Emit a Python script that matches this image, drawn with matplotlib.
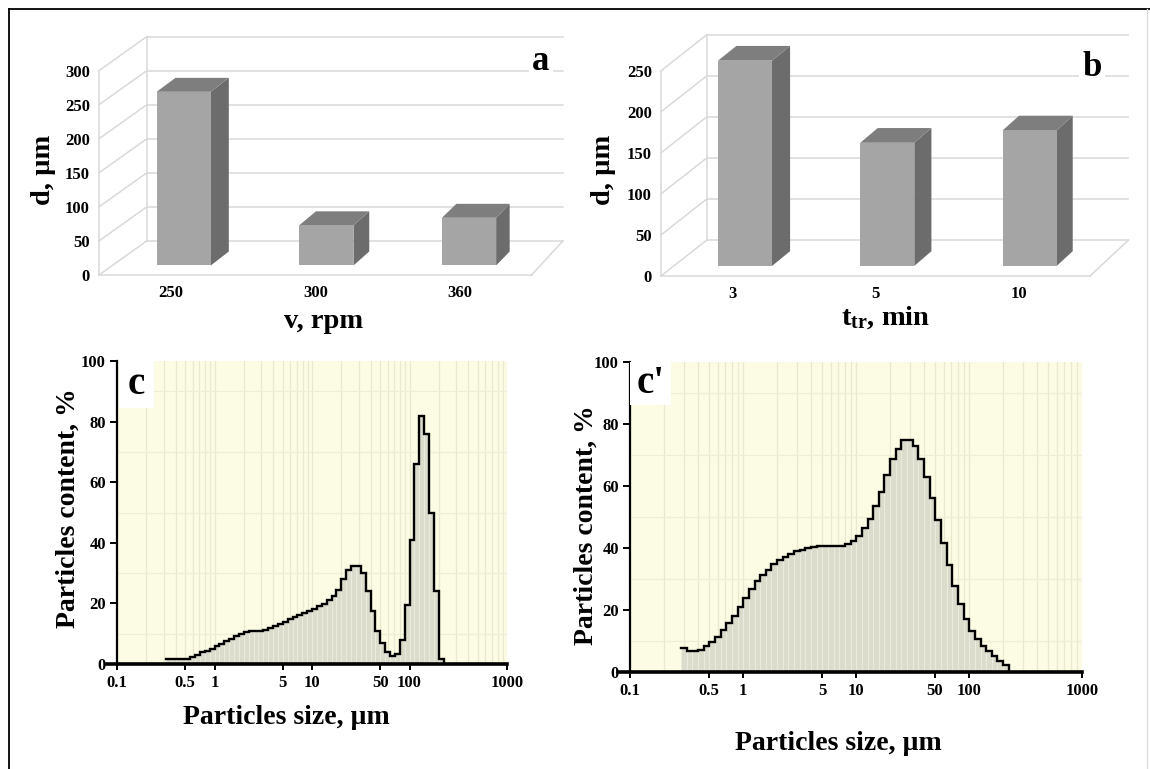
"""Particle size results: 3D-style bar charts (a, b) and size distributions (c, c')."""
import matplotlib
matplotlib.use("Agg")
import matplotlib.pyplot as plt
import numpy as np
from matplotlib.lines import Line2D
from matplotlib.patches import Polygon, Rectangle

plt.rcParams['font.family'] = ['Liberation Serif', 'DejaVu Serif']
plt.rcParams['font.weight'] = 'bold'
plt.rcParams['mathtext.default'] = 'regular'

W, H = 1150, 769

# (a) mean size vs. rotor speed
speed_labels = ['250', '300', '360']
d_speed = [255, 59, 70]

# (b) mean size vs. treatment time
time_labels = ['3', '5', '10']
d_time = [250, 150, 165]

# (c), (c') laser diffraction: 20 size classes per decade
classes_per_decade = 20
first_class_c = 0.317
first_class_c2 = 0.283
content_c = [1.6, 1.6, 1.6, 1.6, 1.6, 2.4, 3.1, 3.8, 4.4, 5.1,
             5.8, 6.7, 7.5, 8.3, 9.1, 9.8, 10.4, 10.9, 11.0, 11.0,
             11.2, 11.8, 12.5, 13.3, 14.0, 14.8, 15.5, 16.2, 16.9, 17.6,
             18.3, 19.0, 19.8, 21.0, 22.5, 24.5, 28.0, 31.0, 32.5, 32.5,
             30.0, 24.0, 17.5, 11.0, 6.8, 4.1, 2.6, 3.2, 8.0, 19.5,
             41.0, 66.0, 82.0, 76.0, 50.0, 24.0, 1.5]
content_c2 = [7.7, 6.9, 6.9, 7.2, 8.3, 9.8, 11.4, 13.6, 15.8, 18.2,
              21.0, 24.0, 26.8, 29.3, 31.3, 33.0, 34.8, 36.1, 37.2, 38.2,
              38.9, 39.5, 39.9, 40.3, 40.5, 40.5, 40.5, 40.5, 40.6, 41.2,
              42.2, 44.0, 46.3, 49.3, 53.4, 58.2, 63.5, 68.8, 72.0, 74.9,
              74.9, 73.0, 68.8, 63.0, 56.0, 48.9, 41.6, 34.4, 27.7, 22.0,
              17.1, 13.2, 10.6, 8.5, 6.9, 5.1, 3.5, 2.1]
size_ticks = [0.1, 0.5, 1, 5, 10, 50, 100, 1000]
size_tick_labels = ['0.1', '0.5', '1', '5', '10', '50', '100', '1000']


def box(left, top, right, bottom):
    """Pixel box (origin top-left) -> figure fraction rect."""
    return [left / W, 1 - bottom / H, (right - left) / W, (bottom - top) / H]


def fig_text(x, y, s, **kw):
    fig.text(x / W, 1 - y / H, s, ha='center', va='center', **kw)


def bar_axes(origin, px_cat, px_val, xlim, ylim):
    """Axes whose data origin sits at pixel `origin` with the given scales."""
    x0, y0 = origin
    rect = box(x0 + xlim[0] * px_cat, y0 - ylim[1] * px_val,
               x0 + xlim[1] * px_cat, y0 - ylim[0] * px_val)
    ax = fig.add_axes(rect)
    ax.set_xlim(*xlim)
    ax.set_ylim(*ylim)
    ax.set_facecolor('none')
    return ax


def bars_3d(ax, values, labels, vmax, dx_left, dx_right, dy_back,
            depth=(0.28, 0.69), width=0.38):
    n = len(values)

    def proj(c, v, d):
        return c + d * (dx_left + (dx_right - dx_left) * c / n), v + d * dy_back

    def seg(p, q):
        (x1, y1), (x2, y2) = proj(*p), proj(*q)
        ax.plot([x1, x2], [y1, y2], color='#d9d9d9', lw=1.1, zorder=1)

    # back wall and left side wall grid
    for v in range(0, vmax + 1, 50):
        seg((0, v, 1), (n, v, 1))
        seg((0, v, 0), (0, v, 1))
    seg((0, 0, 0), (0, vmax, 0))
    seg((0, 0, 1), (0, vmax, 1))
    # floor edges
    seg((0, 0, 0), (n, 0, 0))
    seg((n, 0, 0), (n, 0, 1))

    d0, d1 = depth
    for i, v in enumerate(values):
        c0, c1 = i + 0.5 - width / 2, i + 0.5 + width / 2
        faces = [
            ([(c1, 0, d0), (c1, 0, d1), (c1, v, d1), (c1, v, d0)], '#6c6c6c'),
            ([(c0, v, d0), (c1, v, d0), (c1, v, d1), (c0, v, d1)], '#7e7e7e'),
            ([(c0, 0, d0), (c1, 0, d0), (c1, v, d0), (c0, v, d0)], '#a5a5a5'),
        ]
        for pts, col in faces:
            ax.add_patch(Polygon([proj(*p) for p in pts], closed=True,
                                 fc=col, ec='none', zorder=3))

    for side in ['top', 'right']:
        ax.spines[side].set_visible(False)
    ax.spines['left'].set_position(('data', 0))
    ax.spines['bottom'].set_position(('data', 0))
    ax.spines['left'].set_color('none')
    ax.spines['bottom'].set_color('none')
    ax.set_yticks(range(0, vmax + 1, 50))
    ax.set_xticks([i + 0.5 for i in range(n)], labels)
    ax.tick_params(axis='y', length=0, pad=6.5, labelsize=12)
    ax.tick_params(axis='x', length=0, pad=7.5, labelsize=12)


def psd_panel(ax, first_class, values, tag, tag_box):
    edges = first_class * 10 ** (np.arange(len(values) + 1) / classes_per_decade)
    ax.set_xscale('log')
    ax.set_xlim(0.1, 1000)
    ax.set_ylim(0, 100)
    ax.set_facecolor('#fcfce4')
    ax.set_axisbelow(True)

    ax.set_yticks(range(0, 101, 10), minor=True)
    ax.grid(which='both', axis='x', color='#e9e9cf', lw=0.9)
    ax.grid(which='minor', axis='y', color='#efefd9', lw=0.9)

    ax.bar(edges[:-1], values, width=np.diff(edges), align='edge',
           color='#dcdccd', edgecolor='#ebebdf', linewidth=0.7, zorder=2)
    xs = np.append(np.repeat(edges, 2)[1:-1], edges[-1])
    ys = np.append(np.repeat(values, 2), 0)
    ax.plot(xs, ys, color='black', lw=1.7, zorder=3, solid_joinstyle='miter')

    ax.set_xticks(size_ticks, size_tick_labels)
    ax.set_yticks(range(0, 101, 20))
    ax.tick_params(axis='x', which='major', direction='out', length=4,
                   width=1.4, pad=4, labelsize=12)
    ax.tick_params(axis='y', which='major', direction='out', length=5,
                   width=1.4, pad=3, labelsize=12)
    ax.tick_params(which='minor', length=0)
    for side in ['top', 'right']:
        ax.spines[side].set_visible(False)
    # the base line runs a little past the y axis on the left
    ax.spines['bottom'].set_bounds(0.079, 1000)
    ax.spines['bottom'].set_linewidth(2.6)
    ax.spines['left'].set_linewidth(1.6)

    ax.add_patch(Rectangle((tag_box[0], tag_box[1]), tag_box[2], tag_box[3],
                           transform=ax.transAxes, fc='white', ec='none',
                           zorder=4))
    ax.text(tag_box[0] + tag_box[2] / 2, tag_box[1] + tag_box[3] / 2, tag,
            transform=ax.transAxes, ha='center', va='center', fontsize=28,
            zorder=5)


fig = plt.figure(figsize=(W / 100, H / 100), dpi=100)

# (a)
ax_a = bar_axes((99, 275), 144.2, 0.681, (-0.55, 3.4), (-60, 360))
bars_3d(ax_a, d_speed, speed_labels, 300, 0.331, 0.217, 50)
fig_text(541, 62, 'a', fontsize=25,
         bbox=dict(boxstyle='square,pad=0.1', fc='white', ec='none'))
fig_text(44, 170, 'd, µm', fontsize=20.5, rotation=90)
fig_text(324, 321, 'v, rpm', fontsize=20.5)

# (b)
ax_b = bar_axes((661, 276), 143.0, 0.821, (-0.5, 3.4), (-50, 300))
bars_3d(ax_b, d_time, time_labels, 250, 0.320, 0.269, 43.8)
fig_text(1092, 68, 'b', fontsize=25,
         bbox=dict(boxstyle='square,pad=0.1', fc='white', ec='none'))
fig_text(604, 170, 'd, µm', fontsize=20.5, rotation=90)
fig_text(886, 318, r'$t_{tr}$, min', fontsize=20.5)

# (c)
ax_c = fig.add_axes(box(117, 361, 507, 664))
psd_panel(ax_c, first_class_c, content_c, 'c', (0.005, 0.845, 0.09, 0.155))
fig_text(68, 508, 'Particles content, %', fontsize=20, rotation=90)
fig_text(286, 717, 'Particles size, µm', fontsize=20)

# (c')
ax_c2 = fig.add_axes(box(630, 362, 1082, 672))
psd_panel(ax_c2, first_class_c2, content_c2, "c'", (0.0, 0.86, 0.09, 0.14))
fig_text(586, 525, 'Particles content, %', fontsize=20, rotation=90)
fig_text(838, 744, 'Particles size, µm', fontsize=20)

# frame around the whole figure
fig.add_artist(Line2D([9 / W, 1], [1 - 8.5 / H] * 2, color='black', lw=1.3))
fig.add_artist(Line2D([9 / W] * 2, [0, 1 - 8.5 / H], color='black', lw=1.3))
fig.add_artist(Line2D([1147 / W] * 2, [0, 1 - 8.5 / H], color='#dddddd', lw=1))

fig.savefig('out.png', dpi=100)
